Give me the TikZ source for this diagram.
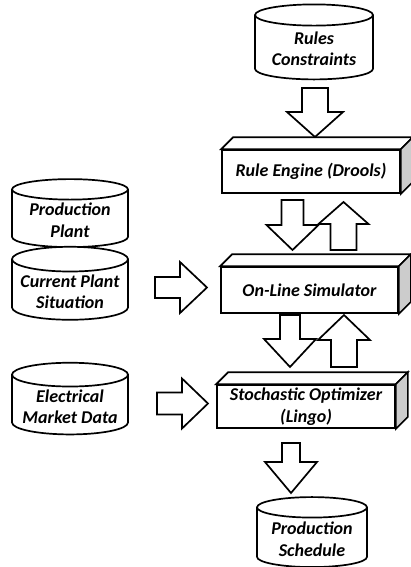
\documentclass[tikz,border=0pt]{standalone}
\usepackage{fontspec}
\setmainfont{Carlito}
\usetikzlibrary{shapes.geometric,calc}

\tikzset{
  store/.style={cylinder, shape border rotate=90, aspect=0.24, draw, fill=white,
    line width=1.7pt, align=center, inner sep=2pt},
  box/.style={draw, fill=white, line width=1.7pt, align=center, inner sep=2pt},
  fat/.style args={#1/#2/#3}{draw, fill=white, line width=1.7pt, line join=miter,
    to path={
      ($(\tikztostart)!#1!90:(\tikztotarget)$)
      -- ($(\tikztotarget)!#3!(\tikztostart)!#1!-90:(\tikztostart)$)
      -- ($(\tikztotarget)!#3!(\tikztostart)!#2!-90:(\tikztostart)$)
      -- (\tikztotarget)
      -- ($(\tikztotarget)!#3!(\tikztostart)!#2!90:(\tikztostart)$)
      -- ($(\tikztotarget)!#3!(\tikztostart)!#1!90:(\tikztostart)$)
      -- ($(\tikztostart)!#1!-90:(\tikztotarget)$) -- cycle}}
}
% top and side face of a box
\newcommand{\boxfaces}[1]{%
  \draw[line width=1.7pt, fill=white] (#1.north west) -- ([shift={(12,-12)}]#1.north west)
    -- ([shift={(12,-12)}]#1.north east) -- (#1.north east) -- cycle;
  \draw[line width=1.7pt, fill=gray!40] (#1.north east) -- ([shift={(12,-12)}]#1.north east)
    -- ([shift={(12,-12)}]#1.south east) -- (#1.south east) -- cycle;}

\begin{document}
\begin{tikzpicture}[x=1pt,y=-1pt,font=\fontsize{18}{21.5}\selectfont\bfseries\itshape]
  \useasboundingbox (0,0) rectangle (411,567);
  % ---- right column: rules, engine, simulator, optimizer, schedule ----
  \node[store, minimum width=118pt, minimum height=75pt] (rules) at (314,49) {Rules\\Constraints};
  \node[box, minimum width=178pt, minimum height=43pt] (engine) at (311,171.5) {Rule Engine (Drools)};
  \boxfaces{engine}
  \node[box, minimum width=177pt, minimum height=46pt] (sim) at (309.5,290) {On-Line Simulator};
  \boxfaces{sim}
  \node[box, minimum width=178pt, minimum height=43pt] (opt) at (306,406.5) {Stochastic Optimizer\\(Lingo)};
  \boxfaces{opt}
  \node[store, minimum width=110pt, minimum height=70pt] (sched) at (312,539) {Production\\Schedule};
  % ---- left column: plant data and market data ----
  \node[store, minimum width=116pt, minimum height=68pt] (plant) at (70,220) {Production\\Plant};
  \node[store, minimum width=116pt, minimum height=68pt] (situ) at (70,291.5) {Current Plant\\Situation};
  \node[store, minimum width=116pt, minimum height=70pt] (market) at (70,406.5) {Electrical\\Market Data};
  % ---- block arrows ----
  \coordinate (r1) at (315,88);    \coordinate (r2) at (315,137);
  \coordinate (e1) at (292.5,200); \coordinate (e2) at (292.5,250);
  \coordinate (e3) at (343.5,250); \coordinate (e4) at (343.5,202);
  \coordinate (s1) at (290,315);   \coordinate (s2) at (290,367);
  \coordinate (s3) at (344,367);   \coordinate (s4) at (344,315);
  \coordinate (o1) at (291,443);   \coordinate (o2) at (291,493);
  \coordinate (p1) at (155,287.5); \coordinate (p2) at (207,287.5);
  \coordinate (m1) at (157,403.5); \coordinate (m2) at (208,403.5);
  \draw[fat=13pt/28pt/25pt] (r1) to (r2);
  \draw[fat=11pt/26pt/25pt] (e1) to (e2);
  \draw[fat=13pt/25pt/22pt] (e3) to (e4);
  \draw[fat=10pt/26pt/28pt] (s1) to (s2);
  \draw[fat=13pt/26pt/25pt] (s3) to (s4);
  \draw[fat=9pt/26pt/31pt] (o1) to (o2);
  \draw[fat=10.5pt/25.5pt/27pt] (p1) to (p2);
  \draw[fat=11pt/25pt/26pt] (m1) to (m2);
\end{tikzpicture}
\end{document}
